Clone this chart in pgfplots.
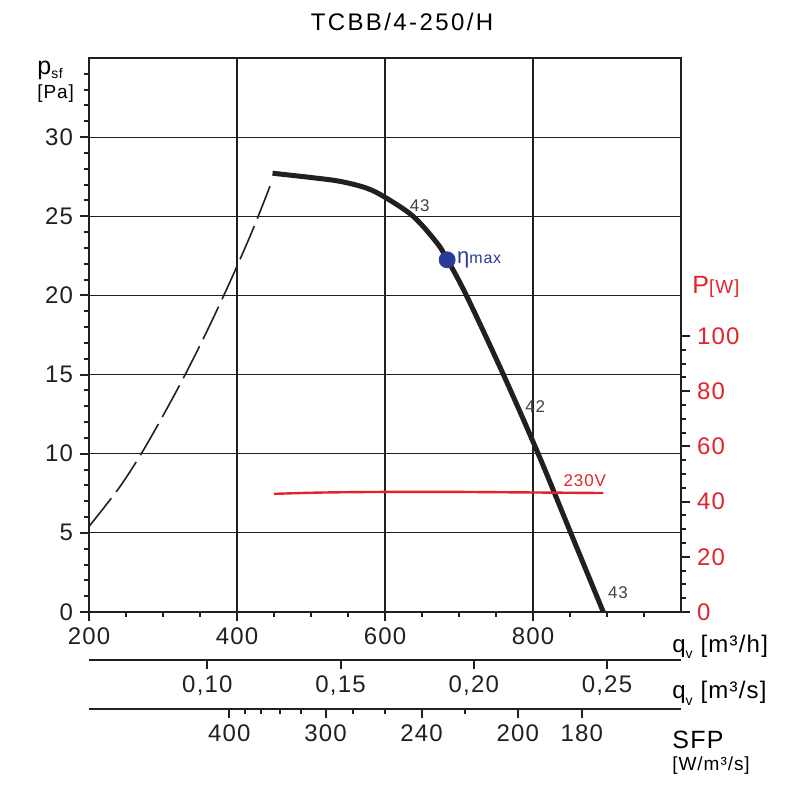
\documentclass[border=0pt]{standalone}
\usepackage{pgfplots}
\pgfplotsset{compat=1.18}
\usepackage{fontspec}
\setmainfont{Liberation Sans}[LetterSpace=5]
\definecolor{ink}{HTML}{231F20}
\definecolor{pred}{HTML}{E3232C}
\definecolor{etablue}{HTML}{2B3A98}

\pgfplotsset{
  chart/.style={
    scale only axis, width=296pt, anchor=south west,
    xmin=200, xmax=1000,
    /pgf/number format/assume math mode=true,
    tick label style={font=\fontsize{12}{14}\selectfont, text=ink},
    axis line style={-, line width=1pt, draw=ink},
    tick style={line width=1pt, draw=ink},
    major tick length=4.5pt, minor tick length=2.5pt, tick align=outside,
  },
  scale line/.style={
    chart, height=1pt, ymin=0, ymax=1,
    axis y line=none, axis x line*=bottom,
  },
}

\begin{document}
\begin{tikzpicture}[font=\color{ink}]
% page frame: 800 x 799 px at 0.5 pt per px
\path (-44.5pt,-93.5pt) rectangle (355.5pt,306pt);

% pressure curve
\begin{axis}[chart, at={(0,0)}, height=277pt,
  ymin=0, ymax=35,
  xtick={200,400,600,800}, minor xtick={250,300,...,950},
  ytick={0,5,...,30}, minor ytick={1,...,34},
  xtick pos=lower, ytick pos=left,
  grid=major, major grid style={line width=0.6pt, draw=ink},
  clip=false]
\addplot[ink, line width=0.8pt, dash pattern=on 18pt off 4pt, smooth] coordinates {
  (200,5.4) (240,7.8) (270,9.95) (300,12.4) (330,15.0) (360,17.8)
  (390,20.8) (420,24.0) (444.6,26.9)
};
\addplot[ink, line width=2.5pt, smooth, tension=0.55] coordinates {
  (448,27.72) (500,27.45) (540,27.2) (575,26.78) (600,26.2) (638,25.0)
  (670,23.33) (684,22.28) (710,20) (760,15) (807,10) (851,5) (895,0)
};
\addplot[only marks, mark=*, mark size=4pt, etablue] coordinates {(684,22.25)};
\node[anchor=base west, text=etablue, inner sep=0pt] at (axis cs:697,22.0)
  {{\fontsize{11}{12}\selectfont η}{\fontsize{8}{9}\selectfont max}};
\node[font=\fontsize{8.5}{10}\selectfont, text=ink!85] at (axis cs:647,25.7) {43};
\node[font=\fontsize{8.5}{10}\selectfont, text=ink!85] at (axis cs:803,13.0) {42};
\node[font=\fontsize{8.5}{10}\selectfont, text=ink!85] at (axis cs:915,1.23) {43};
\end{axis}

% power curve
\begin{axis}[chart, at={(0,0)}, height=277pt,
  ymin=0, ymax=200.7,
  axis y line*=right, axis x line=none,
  ytick={0,20,...,100}, minor ytick={5,10,...,95},
  yticklabel style={text=pred},
  clip=false]
\addplot[pred, line width=1.2pt, smooth] coordinates {
  (450,42.8) (500,43.2) (550,43.4) (600,43.5) (650,43.5) (700,43.5)
  (750,43.4) (800,43.3) (850,43.2) (895,43.1)
};
\node[text=pred, font=\fontsize{8.5}{10}\selectfont] at (axis cs:870,47.5) {230V};
\end{axis}

% airflow in m3/s
\begin{axis}[scale line, at={(0,-24pt)},
  xtick={360,540,720,900}, xticklabels={{0,10},{0,15},{0,20},{0,25}}]
\end{axis}

% specific fan power
\begin{axis}[scale line, at={(0,-48.5pt)},
  xtick={389.7,519.6,649.5,779.4,866.0},
  xticklabels={400,300,240,200,180},
  minor xtick={410.2,433.0,458.5,487.1,556.7,599.5,708.5}]
\end{axis}

% titles and unit labels
\node[anchor=base, font=\fontsize{12}{14}\selectfont\addfontfeature{LetterSpace=10}] at (156.5pt,290.5pt) {TCBB/4-250/H};
\node[anchor=base west, inner sep=0pt, font=\fontsize{12.5}{14}\selectfont] at (-26pt,268.5pt)
  {p\raisebox{-0.25ex}{\fontsize{7}{8}\selectfont sf}};
\node[anchor=base west, inner sep=0pt, font=\fontsize{9.5}{11}\selectfont] at (-26pt,256.5pt) {[Pa]};
\node[anchor=base west, inner sep=0pt, text=pred, font=\fontsize{12.5}{14}\selectfont] at (301.5pt,159pt)
  {P{\fontsize{9.5}{11}\selectfont[W]}};
\node[anchor=base west, inner sep=0pt, font=\fontsize{12}{14}\selectfont] at (291.5pt,-20pt)
  {q\raisebox{-0.5ex}{\fontsize{7}{8}\selectfont v} [m³/h]};
\node[anchor=base west, inner sep=0pt, font=\fontsize{12}{14}\selectfont] at (291.5pt,-43.5pt)
  {q\raisebox{-0.5ex}{\fontsize{7}{8}\selectfont v} [m³/s]};
\node[anchor=base west, inner sep=0pt, font=\fontsize{12.5}{14}\selectfont] at (291.5pt,-68pt) {SFP};
\node[anchor=base west, inner sep=0pt, font=\fontsize{9.5}{11}\selectfont] at (291.5pt,-79.5pt) {[W/m³/s]};
\end{tikzpicture}
\end{document}
